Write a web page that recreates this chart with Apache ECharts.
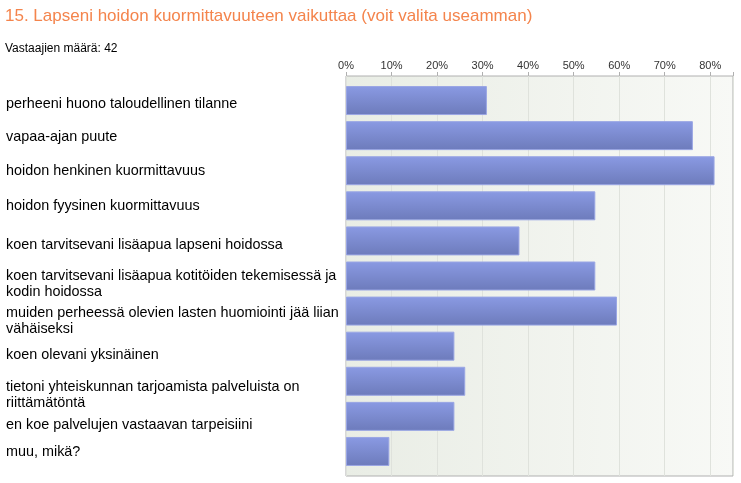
<!DOCTYPE html>
<html><head><meta charset="utf-8">
<script src="https://cdn.jsdelivr.net/npm/echarts@6/dist/echarts.min.js"></script>
<style>html,body{margin:0;padding:0;background:#fff}#c{width:741px;height:483px}</style>
</head><body><div id="c"></div>
<script>
var titleText = "15. Lapseni hoidon kuormittavuuteen vaikuttaa (voit valita useamman)";
var respondents = "Vastaajien määrä: 42";
var categories = [
  "perheeni huono taloudellinen tilanne",
  "vapaa-ajan puute",
  "hoidon henkinen kuormittavuus",
  "hoidon fyysinen kuormittavuus",
  "koen tarvitsevani lisäapua lapseni hoidossa",
  "koen tarvitsevani lisäapua kotitöiden tekemisessä ja\nkodin hoidossa",
  "muiden perheessä olevien lasten huomiointi jää liian\nvähäiseksi",
  "koen olevani yksinäinen",
  "tietoni yhteiskunnan tarjoamista palveluista on\nriittämätöntä",
  "en koe palvelujen vastaavan tarpeisiini",
  "muu, mikä?"
];
var values = [30.95, 76.19, 80.95, 54.76, 38.10, 54.76, 59.52, 23.81, 26.19, 23.81, 9.52];
var tickLabels = ["0%","10%","20%","30%","40%","50%","60%","70%","80%"];
// label vertical nudges (style only, px downward)
var labelNudge = [3, 1, 0, 0, 4, 8, 10, 9, 14, 9, 1];

var FONT = 'Liberation Sans, Arial, sans-serif';
var rich = {};
labelNudge.forEach(function(n){
  var h = Math.abs(2*n);
  if (h) rich['s' + h] = {height:h, lineHeight:h, fontSize:1};
});
function labelFmt(value, index){
  var n = labelNudge[index] || 0;
  var h = Math.abs(2*n);
  if (!h) return value;
  return n > 0 ? ('{s' + h + '| }\n' + value) : (value + '\n{s' + h + '| }');
}

var chart = echarts.init(document.getElementById('c'), null, {renderer:'canvas'});
chart.setOption({
  animation:false,
  title:[
    {text:titleText, left:0, top:3, textStyle:{fontFamily:FONT, fontSize:17, fontWeight:'normal', color:'#f4844c'}},
    {text:respondents, left:0, top:38, textStyle:{fontFamily:FONT, fontSize:12, fontWeight:'normal', color:'#000'}}
  ],
  grid:[
    {left:346, right:8, top:76, bottom:7, show:true, borderColor:'#b0b0b0', borderWidth:1, outerBoundsMode:'none', containLabel:false,
      backgroundColor:{type:'linear', x:0, y:0, x2:1, y2:0, colorStops:[{offset:0,color:'#e9ede5'},{offset:1,color:'#f8f9f6'}]}},
    {left:346, right:8, top:83, bottom:14, outerBoundsMode:'none', containLabel:false}
  ],
  xAxis:[
    {gridIndex:0, type:'value', position:'top', min:0, max:85, interval:10,
      axisLine:{show:false},
      axisTick:{show:true, length:4, lineStyle:{color:'#b0b0b0'}},
      splitLine:{show:true, lineStyle:{color:'#dfe2dc', width:1}},
      axisLabel:{margin:5, fontFamily:FONT, fontSize:11, color:'#333',
        formatter:function(v){var i=Math.round(v/10); return tickLabels[i]||'';}}
    },
    {gridIndex:1, type:'value', min:0, max:85, show:false}
  ],
  yAxis:[
    {gridIndex:0, type:'category', data:[''], show:false},
    {gridIndex:1, type:'category', inverse:true, data:categories,
      axisLine:{show:false}, axisTick:{show:false}, splitLine:{show:false},
      axisLabel:{align:'left', margin:340, fontFamily:FONT, fontSize:14.4, color:'#000', lineHeight:16,
        formatter:labelFmt, rich:rich}
    }
  ],
  series:[{type:'bar', xAxisIndex:1, yAxisIndex:1, data:values, barWidth:29,
    itemStyle:{borderColor:'#9aa6e4', borderWidth:1,
      color:{type:'linear', x:0, y:0, x2:0, y2:1, colorStops:[{offset:0,color:'#8a9ae3'},{offset:1,color:'#6d7bbb'}]}}
  }]
});
</script></body></html>
